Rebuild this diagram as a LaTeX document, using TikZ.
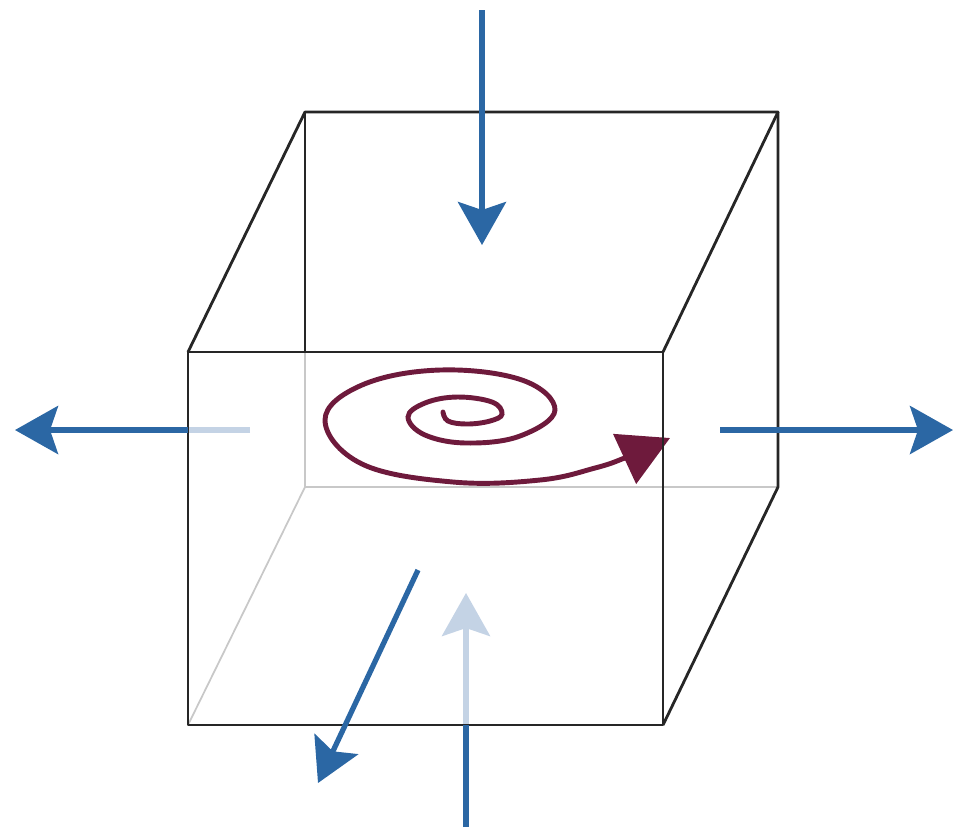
\documentclass[tikz,border=0pt]{standalone}
\usepackage{tikz}
\usetikzlibrary{arrows.meta}
\definecolor{flowblue} {HTML}{2B67A4}
\definecolor{flowfaint}{HTML}{C4D3E5}
\definecolor{swirlred} {HTML}{6E1A3C}
\definecolor{hidgray}  {HTML}{C8C8C8}

\begin{document}
\begin{tikzpicture}[
  x=0.01cm, y=-0.01cm,
  edge/.style={line width=0.8pt, draw=black!85, line join=round},
  hidden/.style={line width=0.5pt, draw=hidgray},
  flow/.style={line width=1.5pt, draw=flowblue,
               -{Stealth[length=0.43cm, width=0.48cm, inset=0.08cm]}},
  flowline/.style={line width=1.5pt, draw=flowblue},
  faint/.style={line width=1.5pt, draw=flowfaint},
  faintflow/.style={faint,
               -{Stealth[length=0.43cm, width=0.48cm, inset=0.08cm]}},
  swirl/.style={line width=1.4pt, draw=swirlred, line cap=round,
               -{Triangle[length=0.5cm, width=0.54cm]}},
]
\useasboundingbox (0,0) rectangle (955,832);

% -- Cube corners -------------------------------
\coordinate (fTL) at (188,352);
\coordinate (fTR) at (663,352);
\coordinate (fBR) at (663,725);
\coordinate (fBL) at (188,725);
\coordinate (bTL) at (305,112);
\coordinate (bTR) at (778,112);
\coordinate (bBR) at (778,487);
\coordinate (bBL) at (305,487);

% -- Arrow ends ---------------------------------
\coordinate (topS)   at (482,10);
\coordinate (topE)   at (482,245);
\coordinate (leftS)  at (250,430);
\coordinate (leftM)  at (188,430);
\coordinate (leftE)  at (15,430);
\coordinate (rightS) at (720,430);
\coordinate (rightE) at (953,430);
\coordinate (diagS)  at (418,570);
\coordinate (diagE)  at (318,783);
\coordinate (upS)    at (466,827);
\coordinate (upM)    at (466,725);
\coordinate (upE)    at (466,593);

% -- Hidden edges -------------------------------
\draw[hidden] (fBL) -- (bBL) -- (bBR);
\draw[hidden] (bBL) -- (305,352);

% -- Faint (behind) parts of arrows -------------
\draw[faint]     (leftS) -- (leftM);
\draw[faintflow] (upM) -- (upE);

% -- Swirl --------------------------------------
\draw[swirl] plot[smooth, tension=0.65] coordinates {
  (443,412) (448,421) (467,424) (490,421) (502,414) (492,402)
  (457,397) (425,403) (408,417) (425,435) (467,443) (520,436)
  (555,410) (522,380) (440,370) (362,385) (325,420) (362,464)
  (453,482) (540,480) (595,468) (627,457) (670,438)};

% -- Visible edges ------------------------------
\draw[edge] (fTL) -- (fTR) -- (fBR) -- (fBL) -- cycle;
\draw[edge] (fTL) -- (bTL) -- (bTR) -- (fTR);
\draw[edge] (bTL) -- (305,352);
\draw[edge] (bTR) -- (bBR) -- (fBR);

% -- Flow arrows --------------------------------
\draw[flow]     (topS) -- (topE);
\draw[flow]     (leftM) -- (leftE);
\draw[flow]     (rightS) -- (rightE);
\draw[flow]     (diagS) -- (diagE);
\draw[flowline] (upS) -- (upM);

\end{tikzpicture}
\end{document}
